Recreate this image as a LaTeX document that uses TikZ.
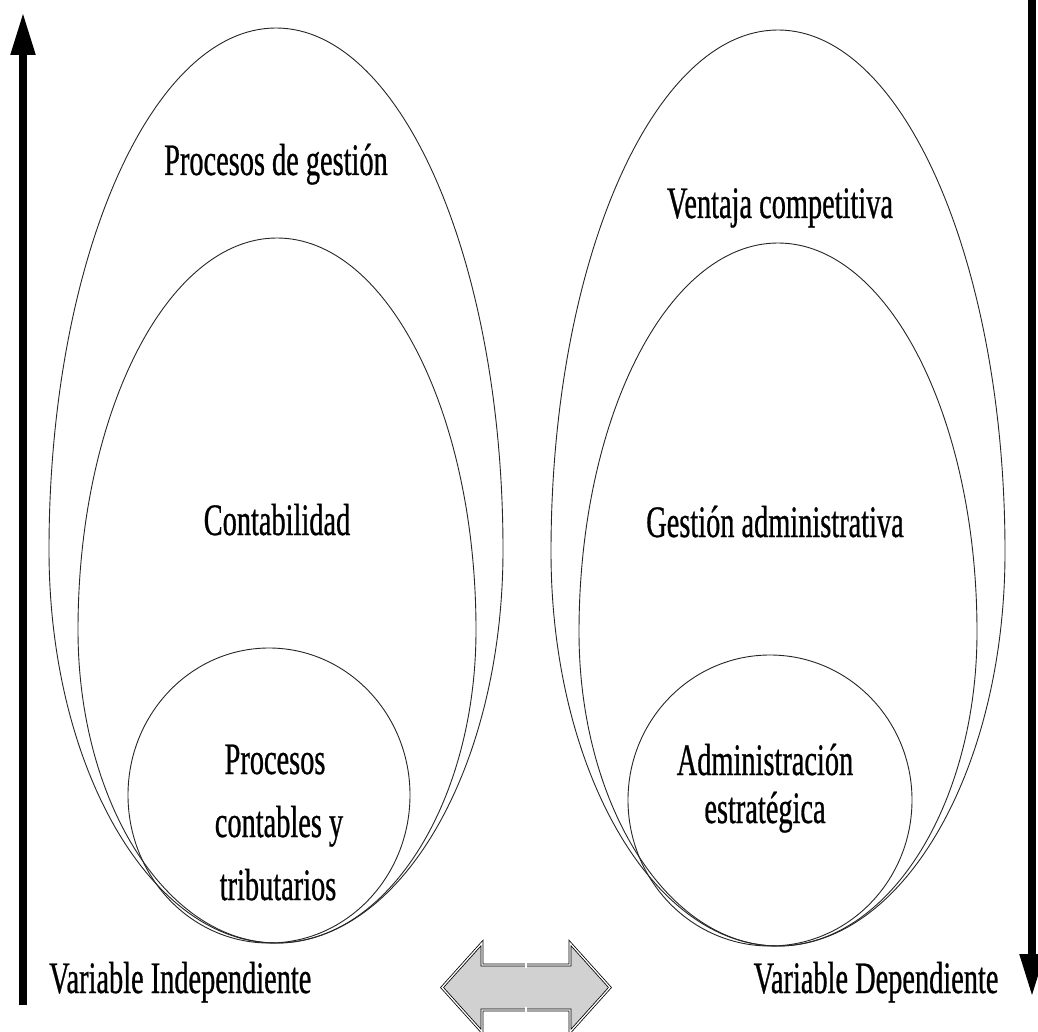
\documentclass[tikz,border=0pt]{standalone}
\usepackage{fontspec}
\setmainfont{Liberation Serif}[FakeStretch=0.63, FakeBold=0.6]
\usetikzlibrary{arrows.meta}

% egg-shaped outline: centre x, top y, widest y, bottom y, half width
\newcommand\eggpath[5]{%
  \pgfmathsetmacro\eggU{0.5523*(#3-#2)}%
  \pgfmathsetmacro\eggL{0.5523*(#4-#3)}%
  \pgfmathsetmacro\eggK{0.5523*#5}%
  \draw[eggline] (#1-#5,#3)
    .. controls (#1-#5,#3-\eggU) and (#1-\eggK,#2) .. (#1,#2)
    .. controls (#1+\eggK,#2) and (#1+#5,#3-\eggU) .. (#1+#5,#3)
    .. controls (#1+#5,#3+\eggL) and (#1+\eggK,#4) .. (#1,#4)
    .. controls (#1-\eggK,#4) and (#1-#5,#3+\eggL) .. cycle;}

\tikzset{
  eggline/.style={draw=black!85, line width=0.9pt},
  lbl/.style={font=\fontsize{45}{54}\selectfont, inner sep=0pt, anchor=base},
  varaxis/.style={line width=8pt, -{Triangle[length=43pt,width=23pt]}},
  linkarrow/.style={fill=black!18, draw=black, line width=0.8pt,
                    double=white, double distance=1.3pt, line join=miter}
}

\begin{document}
\begin{tikzpicture}[x=1pt,y=-1pt]
\useasboundingbox[fill=white] (0,0) rectangle (1038,1032);

% axes for the two variables
\coordinate (indA) at (23,1005);
\coordinate (indB) at (23,12);
\coordinate (depA) at (1032,-5);
\coordinate (depB) at (1032,997);
\draw[varaxis] (indA) -- (indB);
\draw[varaxis] (depA) -- (depB);

% nested eggs, independent variable
\eggpath{276}{28}{550}{943}{227}
\eggpath{277}{238}{630}{943}{199}
\eggpath{269}{648}{795}{943}{141}

% nested eggs, dependent variable
\eggpath{778}{30}{552}{946}{227}
\eggpath{778}{243}{632}{946}{199}
\eggpath{770}{655}{800}{946}{142}

% labels
\node[lbl] (gestion) at (276,175) {Procesos de gestión};
\node[lbl] (conta) at (277,535) {Contabilidad};
\node[lbl] (proc1) at (275,774) {Procesos};
\node[lbl] (proc2) at (279,837) {contables y};
\node[lbl] (proc3) at (278,900) {tributarios};

\node[lbl] (ventaja) at (780,218) {Ventaja competitiva};
\node[lbl] (gadmin) at (775,537) {Gestión administrativa};
\node[lbl] (admin1) at (765,775) {Administración};
\node[lbl] (admin2) at (765,823) {estratégica};

\node[lbl, anchor=base west] (vind) at (49,993) {Variable Independiente};
\node[lbl] (vdep) at (876,993) {Variable Dependiente};

% two-headed link between the variables
\draw[linkarrow] (442,987.5) -- (482,943) -- (482,965) -- (570,965)
  -- (570,943) -- (610,987.5) -- (570,1032) -- (570,1010)
  -- (482,1010) -- (482,1032) -- cycle;
% small joint where the two halves of the link meet
\draw[white, line width=1.5pt] (526,962) -- (526,968) (526,1007) -- (526,1013);
\end{tikzpicture}
\end{document}
